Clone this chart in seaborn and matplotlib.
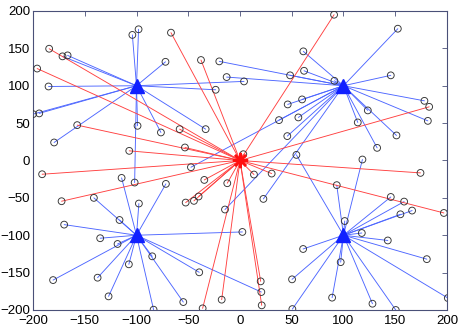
import matplotlib
matplotlib.use("Agg")
import matplotlib.pyplot as plt
import seaborn as sns
import pandas as pd

# centros (triangulos azules) y origen (estrella roja)
cent_x = [-100, 100, -100, 100]
cent_y = [100, 100, -100, -100]

# puntos asignados a cada centro
nw_x = [-104, -98, -72, -171.5, -166.6, -185, -200, -194, -179.6, -99, -76.4, -33.2, -101.8, -23.5, 3.9]
nw_y = [168, 175.5, 132, 139.3, 140.6, 99, 62, 63, 24.1, 46.4, 37.5, 41.9, -29.5, 94.6, 105.8]

ne_x = [-20, -12.9, 61.2, 61.9, 48.4, 91.2, 60, 46.1, 152.5, 145.7, 178.2, 123.5, 113.8, 181.5,
        151.2, 132.5, 37.7, 56.4, -47.4, -14.5, 22.6, 45.7]
ne_y = [132.6, 111.6, 146, 120, 113.9, 106.6, 81.7, 75, 176.3, 113.9, 79.8, 67, 50.9, 53,
        33.5, 16.9, 54, 57.6, -9, -65.6, -51.4, 32.6]

sw_x = [-141.2, -114.4, -71.6, -97.7, -116.4, -118.3, -84.8, -107.4, -39.4, -54.8, -83.5,
        -169.9, -135.1, -180.6, -137.6, -127, 2.3, 20.6]
sw_y = [-50, -23.3, -31.3, -57.6, -79.6, -111.7, -128.2, -138.9, -149.6, -189.4, -199.6,
        -85.8, -104, -160, -156.8, -181.8, -95.6, -176]

se_x = [118.3, 54.5, 93.5, 145.7, 158.6, 166.3, 155, 117.7, 142.8, 180.5, 200.8, 128, 150.5,
        101.2, 61, 97.3, 50.3, 89, 50.6]
se_y = [1.3, 7.5, -33, -48.8, -55, -67, -72, -97, -107, -132, -184, -191.6, -200,
        -81, -118.4, -136, -159, -183.5, -198.8]

# puntos unidos al origen (lineas rojas)
org_x = [-184.4, -196, -66.7, -37.7, 90.9, 182.8, -157.3, -107, -191.2, -172.4, 174.4, 197,
         -36.1, -17.7, 20, 21, 13.5, 30.6, 3.2, -58.3, -53.2, -34.5, -12.3, -52.5, -44.5, -40]
org_y = [149.5, 123, 171, 134.4, 195, 71.8, 47.3, 12.9, -18.4, -54.5, -16.6, -70.2,
         -197.8, -186.2, -161.7, -193.8, -18.8, -17.5, 8.4, 41.9, 17.4, -26, -30.4, -56.3, -54, -48.2]

sns.set_style("white")
plt.rcParams['font.family'] = ['Liberation Sans', 'DejaVu Sans']

fig = plt.figure(figsize=(4.63, 3.29), dpi=100)
ax = fig.add_axes([0.0713, 0.0578, 0.8941, 0.9088])

grupos = [(nw_x, nw_y, 0), (ne_x, ne_y, 1), (sw_x, sw_y, 2), (se_x, se_y, 3)]
for gx, gy, k in grupos:
    for x, y in zip(gx, gy):
        ax.plot([cent_x[k], x], [cent_y[k], y], color=(0.3, 0.4, 1.0), lw=0.65, zorder=1)
for x, y in zip(org_x, org_y):
    ax.plot([0, x], [0, y], color=(1.0, 0.25, 0.25), lw=0.65, zorder=1)

todos = pd.DataFrame({
    "x": nw_x + ne_x + sw_x + se_x + org_x,
    "y": nw_y + ne_y + sw_y + se_y + org_y,
})
sns.scatterplot(data=todos, x="x", y="y", ax=ax, marker="o", s=24,
                facecolor="none", edgecolor="#333333", linewidth=0.65, zorder=3)

ax.plot(cent_x, cent_y, linestyle="none", marker="^", markersize=9.5,
        color="#1020ff", zorder=4)
ax.plot([0], [0], linestyle="none", marker=(8, 2, 0), markersize=11,
        markeredgewidth=1.8, color="#ff1010", zorder=4)

ax.set_xlim(-200, 200)
ax.set_ylim(-200, 200)
ticks = list(range(-200, 201, 50))
ax.set_xticks(ticks)
ax.set_yticks(ticks)
ax.set_xticklabels([str(t).replace("-", "\u2212") for t in ticks], fontsize=9.5)
ax.set_yticklabels([str(t).replace("-", "\u2212") for t in ticks], fontsize=9.5)
ax.tick_params(direction="in", length=3.5, width=0.6, top=True, right=True,
               colors="#4a5078", labelcolor="black")
ax.tick_params(axis="x", pad=3.5)
ax.tick_params(axis="y", pad=2)
for s in ax.spines.values():
    s.set_color("#4a5078")
    s.set_linewidth(0.8)
ax.set_xlabel("")
ax.set_ylabel("")

fig.savefig("out.png", dpi=100)
